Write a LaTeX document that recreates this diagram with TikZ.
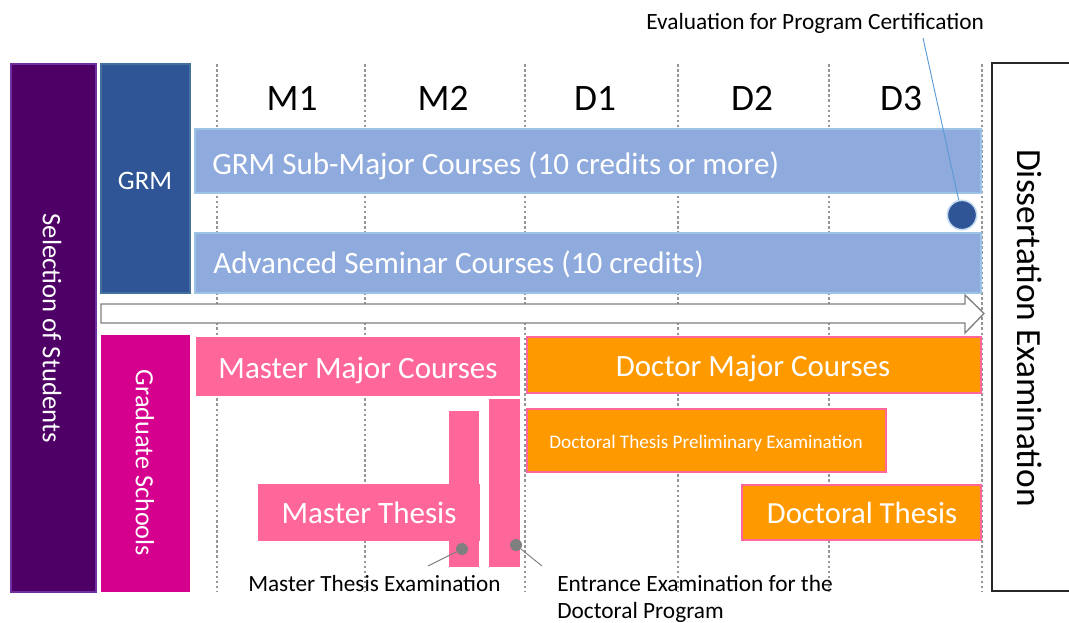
\documentclass[tikz,border=0pt]{standalone}
\usepackage{fontspec}
\setmainfont{Carlito}
\definecolor{selpurple}{HTML}{4E0066}
\definecolor{selborder}{HTML}{7030A0}
\definecolor{grmblue}{HTML}{2F5597}
\definecolor{grmborder}{HTML}{41719C}
\definecolor{lightblue}{HTML}{8FAADC}
\definecolor{lbborder}{HTML}{9DC3E6}
\definecolor{magentags}{HTML}{D6008F}
\definecolor{pinkbox}{HTML}{FF6699}
\definecolor{orangebox}{HTML}{FF9900}
\definecolor{dotgray}{HTML}{7F7F7F}
\definecolor{vgray}{HTML}{959595}
\definecolor{evblue}{HTML}{5B9BD5}
\newcommand\fs[1]{\fontsize{#1}{#1}\selectfont}
\newcommand\bx[6]{\node[#2,anchor=north west,inner sep=0pt,outer sep=0pt,minimum width={(#5-#3)*0.75pt},minimum height={(#6-#4)*0.75pt}] (#1) at (#3,#4) {};}
\tikzset{
  vline/.style={vgray,line width=1.9pt,dash pattern=on 1.9pt off 1.9pt},
  selbox/.style={fill=selpurple,draw=selborder,line width=1pt},
  grmbox/.style={fill=grmblue,draw=grmborder,line width=1pt},
  lbbar/.style={fill=lightblue,draw=lbborder,line width=0.8pt},
  gsbox/.style={fill=magentags},
  pinkbar/.style={fill=pinkbox},
  orbar/.style={fill=orangebox,draw=pinkbox,line width=1pt},
  dissbox/.style={draw=black!85,line width=0.9pt,fill=white},
  wtxt/.style={text=white,inner sep=0pt},
  btxt/.style={text=black,inner sep=0pt},
  evaldot/.style={circle,fill=grmblue,draw=lbborder!60,line width=1.2pt,minimum size=22pt,inner sep=0pt},
  gdot/.style={circle,fill=dotgray,minimum size=9pt,inner sep=0pt},
  gline/.style={dotgray,line width=0.7pt},
  evline/.style={evblue,line width=0.7pt},
  bigarrow/.style={draw=dotgray,line width=1pt,fill=white,line join=miter}
}
\begin{document}
\begin{tikzpicture}[x=0.75pt,y=-0.75pt]
\useasboundingbox (0,0) rectangle (1069,622);
\clip (0,0) rectangle (1069,622);
% dotted vertical grid
\foreach \x/\n in {217/a,365/b,525/c,678/d,829/e,982/f}{
  \coordinate (t\n) at (\x,64);
  \coordinate (b\n) at (\x,592);
  \draw[vline] (t\n) -- (b\n);
}
% left column boxes
\bx{sel}{selbox}{11}{64}{96}{592}
\node[wtxt,rotate=-90] (seltxt) at (52,328) {\fs{20}Selection of Students};
\bx{grm}{grmbox}{101}{64}{190}{293}
\node[wtxt,anchor=base] (grmtxt) at (145,189) {\fs{20}GRM};
\bx{gs}{gsbox}{101}{335}{190}{592}
\node[wtxt,rotate=-90] (gstxt) at (145,463) {\fs{19.7}Graduate Schools};
% headers
\node[btxt,anchor=base] (m1) at (292,110) {\fs{28}M1};
\node[btxt,anchor=base] (m2) at (443,110) {\fs{28}M2};
\node[btxt,anchor=base] (d1) at (595,110) {\fs{28}D1};
\node[btxt,anchor=base] (d2) at (752,110) {\fs{28}D2};
\node[btxt,anchor=base] (d3) at (901,110) {\fs{28}D3};
% GRM bars
\bx{sub}{lbbar}{195}{129}{981}{193}
\node[wtxt,anchor=base west] (subtxt) at (212,174) {\fs{23.3}GRM Sub-Major Courses (10 credits or more)};
\bx{adv}{lbbar}{195}{233}{981}{293}
\node[wtxt,anchor=base west] (advtxt) at (213,273) {\fs{23.3}Advanced Seminar Courses (10 credits)};
% big arrow
\path[bigarrow] (101,304) -- (965,304) -- (965,295) -- (984,313.5) -- (965,333) -- (965,323) -- (101,323) -- cycle;
% evaluation dot
\node[evaldot] (evdot) at (962,215) {};
\coordinate (evtip) at (923,38);
\draw[evline] (evdot) -- (evtip);
\node[btxt,anchor=base west] (evtxt) at (646,29) {\fs{17.5}Evaluation for Program Certification};
% dissertation
\bx{diss}{dissbox}{992}{63}{1100}{591}
\node[btxt,rotate=-90] (disstxt) at (1030,328) {\fs{26.5}Dissertation Examination};
% master side
\bx{mmc}{pinkbar}{196}{337}{520}{396}
\node[wtxt,anchor=base] (mmctxt) at (358,378) {\fs{23.3}Master Major Courses};
\bx{mthv}{pinkbar}{449}{411}{479}{567}
\bx{mthh}{pinkbar}{258}{484}{480}{541}
\node[wtxt,anchor=base] (mthtxt) at (369,523) {\fs{23.3}Master Thesis};
\bx{ent}{pinkbar}{489}{399}{520}{567}
% doctor side
\bx{dmc}{orbar}{527}{337}{981}{393}
\node[wtxt,anchor=base] (dmctxt) at (753,376) {\fs{23.2}Doctor Major Courses};
\bx{pre}{orbar}{527}{409}{886}{472}
\node[wtxt,anchor=base] (pretxt) at (706,448) {\fs{14.4}Doctoral Thesis Preliminary Examination};
\bx{dth}{orbar}{742}{485}{981}{540}
\node[wtxt,anchor=base] (dthtxt) at (862,523) {\fs{23}Doctoral Thesis};
% examination markers
\node[gdot] (mdot) at (462,549) {};
\coordinate (mend) at (428,566);
\draw[gline] (mdot) -- (mend);
\node[gdot] (edot) at (516,545) {};
\coordinate (eend) at (542,566);
\draw[gline] (edot) -- (eend);
\node[btxt,anchor=base west] (mtetxt) at (248,591) {\fs{17.4}Master Thesis Examination};
\node[btxt,anchor=base west] (enttxt1) at (557,591) {\fs{17.5}Entrance Examination for the};
\node[btxt,anchor=base west] (enttxt2) at (557,618) {\fs{17.5}Doctoral Program};
\end{tikzpicture}
\end{document}
